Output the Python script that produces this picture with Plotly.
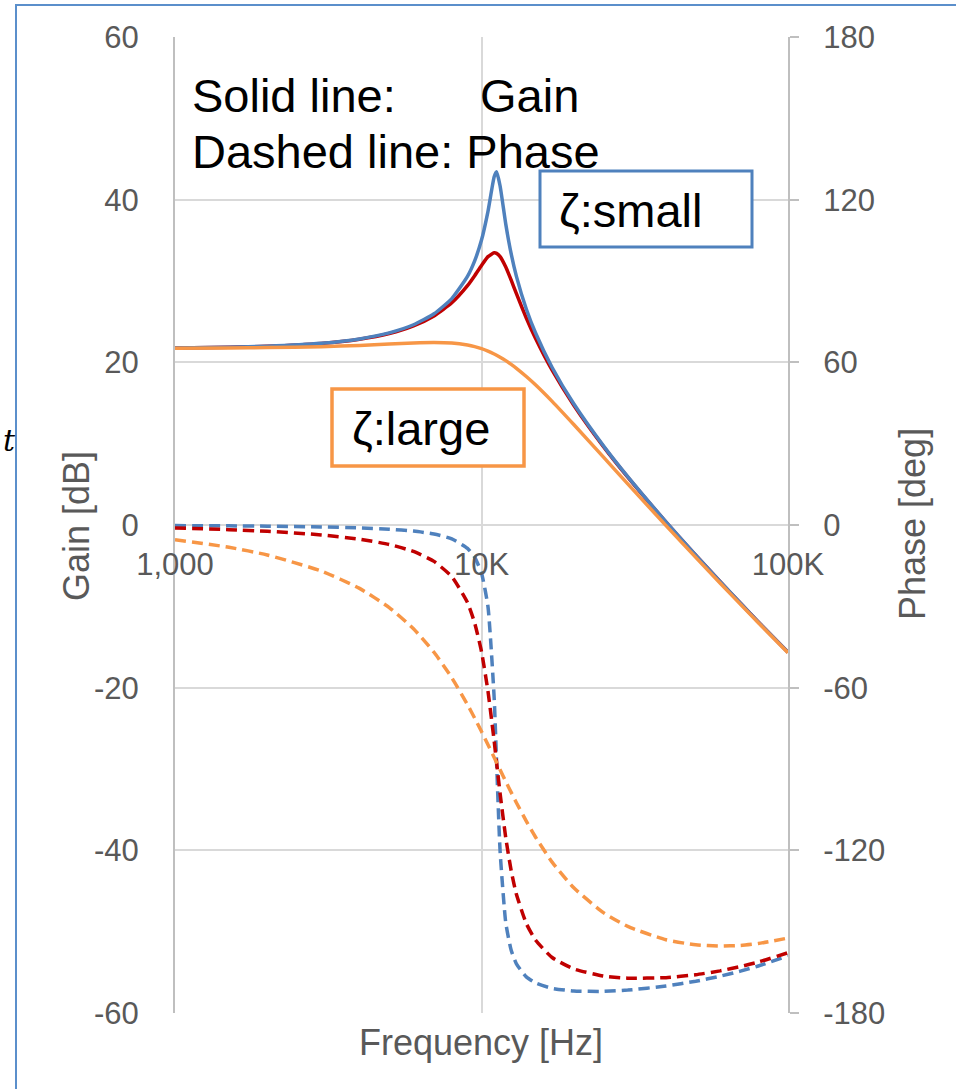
import plotly.graph_objects as go

# ---------------- data ----------------
freq_hz = [1000, 1500, 2000, 3000, 4000, 5000, 6000, 7000, 8000, 9000, 9500,
           10000, 10500, 11000, 11200, 11500, 12000, 12500, 13000, 14000, 15000,
           17000, 20000, 25000, 30000, 40000, 50000, 60000, 70000, 80000, 100000]

gain_small = [21.77, 21.86, 21.98, 22.34, 22.88, 23.62, 24.62, 25.97, 27.84, 30.57, 32.48,
              35.03, 38.57, 42.81, 43.42, 41.68, 36.99, 33.33, 30.57, 26.56, 23.64,
              19.37, 14.90, 9.73, 5.94, 0.39, -3.70, -6.94, -9.62, -11.91, -15.65]
gain_mid = [21.77, 21.85, 21.97, 22.32, 22.84, 23.54, 24.48, 25.70, 27.32, 29.42, 30.65,
            31.92, 33.00, 33.47, 33.40, 33.00, 31.72, 30.10, 28.44, 25.45, 22.96,
            19.03, 14.73, 9.64, 5.89, 0.36, -3.71, -6.95, -9.63, -11.92, -15.66]
gain_large = [21.73, 21.76, 21.81, 21.93, 22.08, 22.24, 22.38, 22.44, 22.37, 22.12, 21.93,
              21.68, 21.37, 21.02, 20.87, 20.63, 20.21, 19.75, 19.27, 18.26, 17.24,
              15.20, 12.35, 8.34, 5.05, -0.07, -3.98, -7.13, -9.76, -12.02, -15.72]

phase_small = [-0.21, -0.32, -0.44, -0.72, -1.06, -1.55, -2.24, -3.31, -5.10, -8.61, -11.89,
               -17.71, -30.16, -63.91, -87.6, -120.35, -146.73, -156.88, -161.88, -166.67, -168.90,
               -170.91, -171.89, -172.02, -171.55, -170.05, -168.28, -166.43, -164.54, -162.65, -158.94]
phase_mid = [-1.13, -1.71, -2.32, -3.65, -5.22, -7.18, -9.76, -13.43, -19.05, -28.60, -36.13,
             -46.72, -61.34, -79.75, -87.6, -99.03, -115.40, -127.56, -136.21, -146.98, -153.09,
             -159.52, -163.74, -166.36, -167.16, -166.96, -165.88, -164.46, -162.87, -161.19, -157.78]
phase_large = [-5.44, -8.21, -11.04, -16.97, -23.38, -30.45, -38.28, -46.95, -56.34, -66.23, -71.23,
               -76.19, -81.05, -85.76, -87.6, -90.28, -94.59, -98.63, -102.43, -109.25, -115.09,
               -124.35, -133.82, -142.99, -148.08, -153.00, -154.85, -155.33, -155.07, -154.39, -152.36]

x_tickvals = [1000, 10000, 100000]
x_ticktext = ["1,000", "10K", "100K"]
gain_ticks = [-60, -40, -20, 0, 20, 40, 60]
gain_ticktext = ["-60", "-40", "-20", "0", "20", "40", "60"]
phase_ticks = [-180, -120, -60, 0, 60, 120, 180]
phase_ticktext = ["-180", "-120", "-60", "0", "60", "120", "180"]

# ---------------- styling ----------------
W, H = 956, 1089
L, R, T, B = 175, 788, 37, 1013          # plot-area pixel box
FONT = "Liberation Sans, Arial, sans-serif"
GREY = "#595959"
BLUE = "#4F81BD"
RED = "#C00000"
ORANGE = "#F79646"


def px(xp):
    return (xp - L) / (R - L)


def py(yp):
    return (B - yp) / (B - T)


fig = go.Figure()

for y, c in [(gain_mid, RED), (gain_small, BLUE), (gain_large, ORANGE)]:
    fig.add_trace(go.Scatter(x=freq_hz, y=y, mode="lines", yaxis="y",
                             line=dict(color=c, width=3.5, shape="spline", smoothing=0.5),
                             hoverinfo="skip"))
for y, c in [(phase_small, BLUE), (phase_mid, RED), (phase_large, ORANGE)]:
    fig.add_trace(go.Scatter(x=freq_hz, y=y, mode="lines", yaxis="y2",
                             line=dict(color=c, width=3.5, dash="11px,6px",
                                       shape="spline", smoothing=0.5),
                             hoverinfo="skip"))

annotations = [
    dict(text="Solid line:", x=px(190), y=py(95), xanchor="left", yanchor="middle",
         font=dict(size=47, color="black", family=FONT)),
    dict(text="Gain", x=px(478), y=py(95), xanchor="left", yanchor="middle",
         font=dict(size=47, color="black", family=FONT)),
    dict(text="Dashed line: Phase", x=px(190), y=py(152), xanchor="left", yanchor="middle",
         font=dict(size=47, color="black", family=FONT)),
    dict(text="ζ:small", x=px(557), y=py(210), xanchor="left", yanchor="middle",
         font=dict(size=47, color="black", family=FONT)),
    dict(text="ζ:large", x=px(350), y=py(428), xanchor="left", yanchor="middle",
         font=dict(size=47, color="black", family=FONT)),
    dict(text="Gain [dB]", x=px(76), y=py(526), xanchor="center", yanchor="middle",
         textangle=-90, font=dict(size=36, color=GREY, family=FONT)),
    dict(text="Phase [deg]", x=px(912), y=py(524), xanchor="center", yanchor="middle",
         textangle=-90, font=dict(size=36, color=GREY, family=FONT)),
    dict(text="Frequency [Hz]", x=px(481), y=py(1042), xanchor="center", yanchor="middle",
         font=dict(size=36, color=GREY, family=FONT)),
    dict(text="t", x=px(1), y=py(440), xanchor="left", yanchor="middle",
         font=dict(size=30, color="black", family="DejaVu Serif", style="italic")),
]
for a in annotations:
    a.update(xref="paper", yref="paper", showarrow=False)

shapes = [
    dict(type="rect", xref="paper", yref="paper", x0=px(540), x1=px(752), y0=py(247), y1=py(171),
         line=dict(color=BLUE, width=3), fillcolor="white", layer="above"),
    dict(type="rect", xref="paper", yref="paper", x0=px(332), x1=px(524), y0=py(466), y1=py(389),
         line=dict(color=ORANGE, width=3.5), fillcolor="white", layer="above"),
    dict(type="rect", xref="paper", yref="paper", x0=px(16), x1=px(970), y0=py(1100), y1=py(5),
         line=dict(color="#5B8FCB", width=2), fillcolor="rgba(0,0,0,0)", layer="above"),
]

fig.update_layout(
    width=W, height=H,
    margin=dict(l=L, r=W - R, t=T, b=H - B, pad=0),
    paper_bgcolor="white", plot_bgcolor="white",
    showlegend=False,
    font=dict(family=FONT, color=GREY),
    xaxis=dict(type="log", range=[3, 5], tickvals=x_tickvals, ticktext=x_ticktext,
               showgrid=True, gridcolor="#D9D9D9", gridwidth=2, showline=False, zeroline=False,
               ticks="", anchor="free", position=0.5, ticklabelstandoff=18,
               tickfont=dict(size=31, color=GREY, family=FONT)),
    yaxis=dict(range=[-60, 60], tickvals=gain_ticks, ticktext=gain_ticktext,
               showgrid=True, gridcolor="#D9D9D9",
               gridwidth=2, showline=True, linecolor="#BFBFBF", linewidth=2, zeroline=False,
               ticks="", ticklabelstandoff=28,
               tickfont=dict(size=31, color=GREY, family=FONT)),
    yaxis2=dict(range=[-180, 180], tickvals=phase_ticks, ticktext=phase_ticktext,
                overlaying="y", side="right",
                showgrid=False, showline=True, linecolor="#BFBFBF", linewidth=2, zeroline=False,
                ticks="outside", ticklen=9, tickcolor="#BFBFBF", tickwidth=2,
                ticklabelstandoff=18, tickfont=dict(size=31, color=GREY, family=FONT)),
    annotations=annotations,
    shapes=shapes,
)

fig.write_html("out.html")
